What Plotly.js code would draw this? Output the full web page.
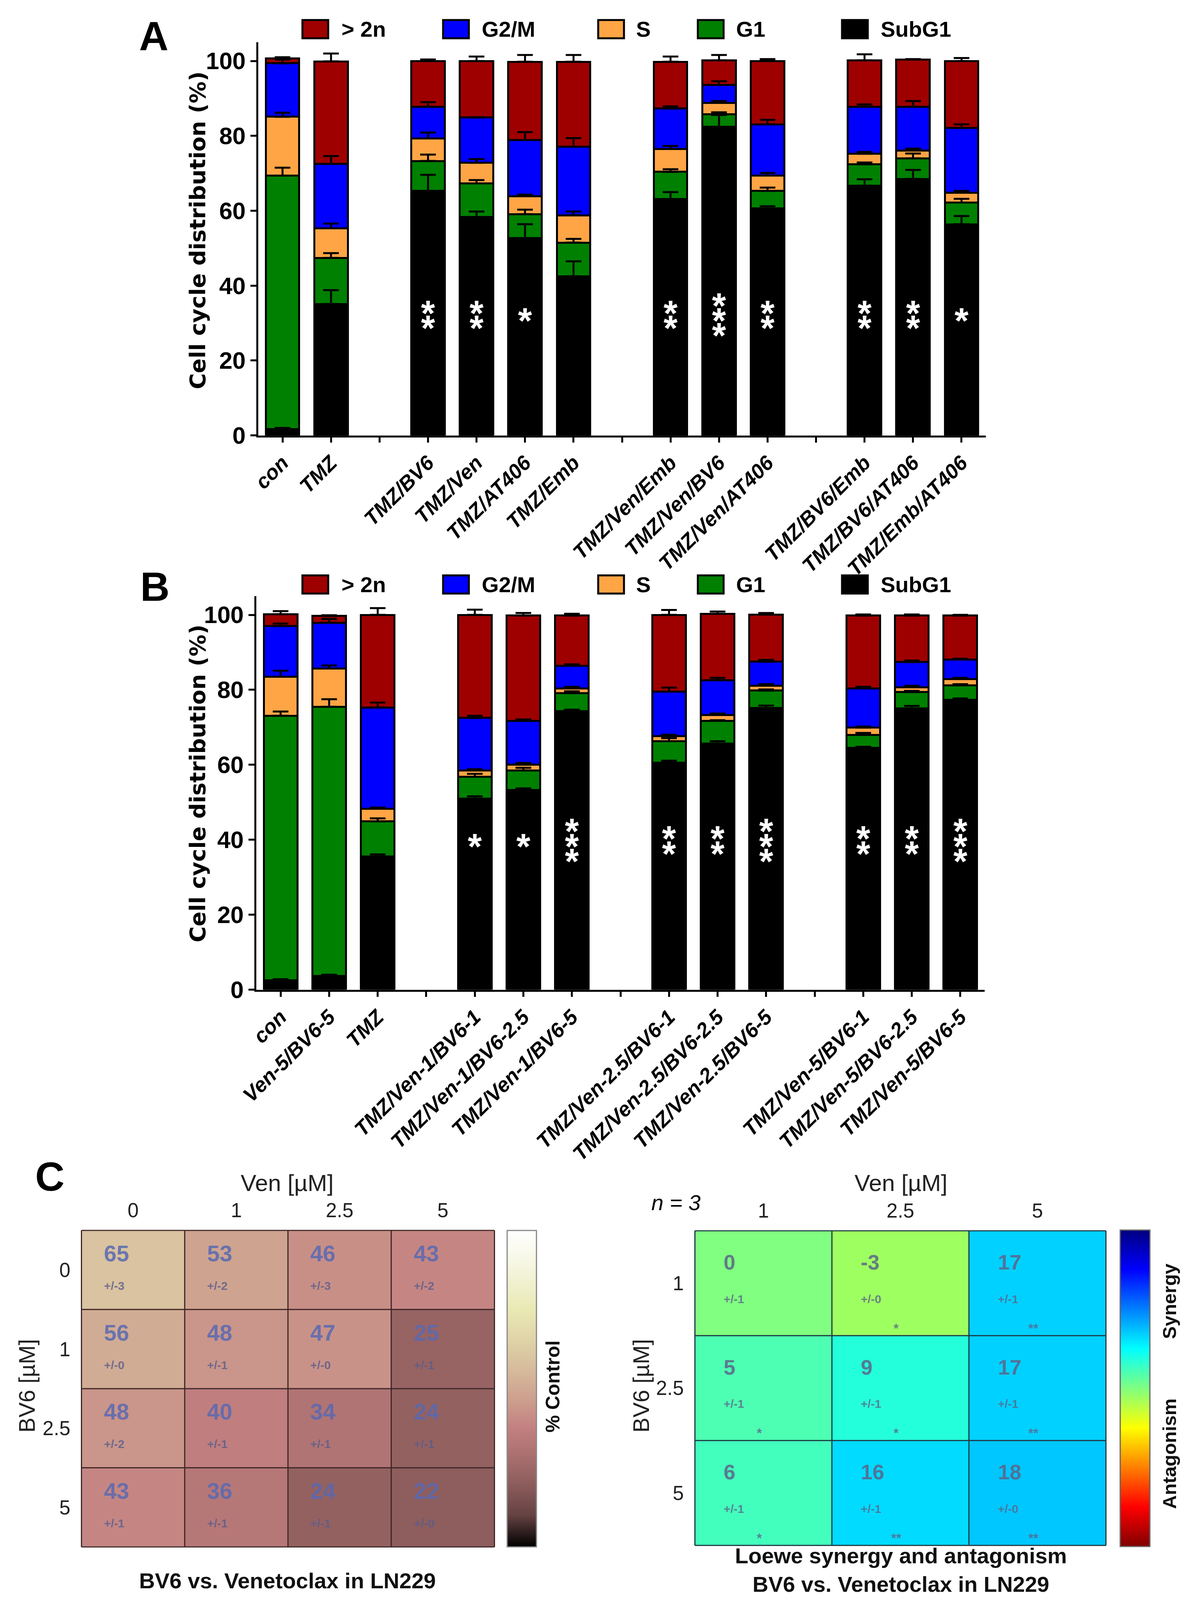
<!DOCTYPE html>
<html>
<head>
<meta charset="utf-8">
<script src="https://cdn.plot.ly/plotly-3.0.1.min.js"></script>
<style>html,body{margin:0;padding:0;background:#fff;overflow:hidden}</style>
</head>
<body>
<div id="chart"></div>
<script>
// ---------------- DATA ----------------
const seriesNames = ['SubG1', 'G1', 'S', 'G2/M', '> 2n'];   // stacking order bottom -> top

// Panel A
const labelsA = ['con', 'TMZ', '', 'TMZ/BV6', 'TMZ/Ven', 'TMZ/AT406', 'TMZ/Emb', '',
  'TMZ/Ven/Emb', 'TMZ/Ven/BV6', 'TMZ/Ven/AT406', '', 'TMZ/BV6/Emb', 'TMZ/BV6/AT406', 'TMZ/Emb/AT406'];
const subG1_A = [1.7, 35.1, null, 65.3, 58.3, 52.7, 42.5, null, 63.1, 82.4, 60.6, null, 66.7, 68.5, 56.4];
const g1_A    = [67.7, 12.3, null, 8.0, 9.0, 6.4, 9.0, null, 7.3, 3.4, 4.7, null, 5.7, 5.5, 5.8];
const s_A     = [15.7, 7.9, null, 6.0, 5.5, 4.8, 7.3, null, 6.1, 3.0, 4.1, null, 2.8, 2.1, 2.6];
const g2m_A   = [14.3, 17.2, null, 8.5, 12.1, 15.0, 18.3, null, 10.8, 4.8, 13.7, null, 12.6, 11.7, 17.3];
const gt2n_A  = [1.3, 27.4, null, 12.2, 15.1, 20.9, 22.7, null, 12.5, 6.6, 16.9, null, 12.4, 12.6, 17.9];
const sdSubG1_A = [0.3, 3.7, null, 4.3, 1.5, 3.7, 4.0, null, 1.9, 3.2, 0.6, null, 1.7, 2.4, 2.2];
const sdG1_A    = [2.1, 1.3, null, 1.7, 0.9, 1.2, 1.0, null, 0.7, 0.5, 0.9, null, 0.5, 1.3, 1.0];
const sdS_A     = [1.1, 1.3, null, 1.6, 1.0, 0.4, 1.0, null, 0.8, 0.5, 0.7, null, 0.5, 0.5, 0.5];
const sdG2m_A   = [1.0, 2.1, null, 1.2, 0.1, 2.1, 2.3, null, 0.6, 1.0, 1.2, null, 0.6, 1.5, 1.0];
const sdGt2n_A  = [0.3, 2.1, null, 0.4, 1.2, 1.8, 1.8, null, 1.4, 1.4, 0.5, null, 1.6, 0.1, 0.8];
const starsA    = [0, 0, 0, 2, 2, 1, 0, 0, 2, 3, 2, 0, 2, 2, 1];

// Panel B
const labelsB = ['con', 'Ven-5/BV6-5', 'TMZ', '', 'TMZ/Ven-1/BV6-1', 'TMZ/Ven-1/BV6-2.5', 'TMZ/Ven-1/BV6-5', '',
  'TMZ/Ven-2.5/BV6-1', 'TMZ/Ven-2.5/BV6-2.5', 'TMZ/Ven-2.5/BV6-5', '', 'TMZ/Ven-5/BV6-1', 'TMZ/Ven-5/BV6-2.5', 'TMZ/Ven-5/BV6-5'];
const subG1_B = [2.5, 3.7, 35.5, null, 51.0, 53.3, 74.3, null, 60.6, 65.7, 75.1, null, 64.5, 75.0, 77.3];
const g1_B    = [70.6, 71.8, 9.4, null, 5.8, 5.2, 4.8, null, 5.7, 6.0, 4.7, null, 3.5, 4.4, 3.9];
const s_B     = [10.4, 10.2, 3.4, null, 1.7, 1.5, 1.3, null, 1.3, 1.6, 1.3, null, 1.9, 1.3, 1.7];
const g2m_B   = [13.5, 12.2, 27.0, null, 14.0, 11.7, 6.0, null, 11.9, 9.3, 6.4, null, 10.5, 6.7, 5.2];
const gt2n_B  = [3.2, 1.8, 24.7, null, 27.5, 28.1, 13.4, null, 20.5, 17.7, 12.6, null, 19.4, 12.4, 11.7];
const sdSubG1_B = [0.3, 0.3, 0.6, null, 0.6, 0.4, 0.4, null, 0.5, 0.6, 0.7, null, 0.3, 0.7, 0.4];
const sdG1_B    = [1.1, 2.0, 0.8, null, 0.8, 0.7, 0.5, null, 0.8, 0.2, 0.3, null, 0.5, 0.3, 0.3];
const sdS_B     = [1.6, 0.8, 0.3, null, 0.3, 0.5, 0.4, null, 0.4, 0.4, 0.4, null, 0.3, 0.4, 0.3];
const sdG2m_B   = [0.7, 1.0, 1.3, null, 0.6, 0.4, 0.4, null, 1.1, 0.6, 0.5, null, 0.4, 0.4, 0.2];
const sdGt2n_B  = [0.8, 0.2, 1.8, null, 1.4, 0.7, 0.5, null, 1.3, 0.6, 0.4, null, 0.3, 0.3, 0.2];
const starsB    = [0, 0, 0, 0, 1, 1, 3, 0, 2, 2, 3, 0, 2, 2, 3];

// Panel C (left): % control, rows BV6, columns Ven
const venLeft = ['0', '1', '2.5', '5'];
const bv6Left = ['0', '1', '2.5', '5'];
const pctControl = [[65, 53, 46, 43], [56, 48, 47, 25], [48, 40, 34, 24], [43, 36, 24, 22]];
const pctControlSD = [[3, 2, 3, 2], [0, 1, 0, 1], [2, 1, 1, 1], [1, 1, 1, 0]];

// Panel C (right): Loewe synergy
const venRight = ['1', '2.5', '5'];
const bv6Right = ['1', '2.5', '5'];
const loewe = [[0, -3, 17], [5, 9, 17], [6, 16, 18]];
const loeweSD = [[1, 0, 1], [1, 1, 1], [1, 1, 0]];
const loeweStars = [['', '*', '**'], ['*', '*', '**'], ['*', '**', '**']];

// ---------------- STYLE / LAYOUT ----------------
const W = 3061, H_REF = 4391;
const vh = window.innerHeight;
const H = (vh && vh > 1000) ? Math.min(vh, H_REF) : H_REF;     // fit the whole figure in the visible window
const hr = H / H_REF;                 // vertical squeeze factor
const F = (1 + hr) / 2;               // font scale for horizontal text
const fs = s => Math.round(s * F);
const fv = s => Math.round(s * hr);   // font scale for vertical / diagonal text
document.getElementById('chart').style.width = W + 'px';
document.getElementById('chart').style.height = H + 'px';

const X = p => p / W;
const Y = p => 1 - p / H_REF;
const SANS = '"Liberation Sans", Arial, Helvetica, sans-serif';
const WIDE = '"DejaVu Sans", Verdana, sans-serif';
const seriesColors = ['#000000', '#008000', '#ffa545', '#0000ff', '#9e0000'];

const traces = [];
const annotations = [];
const shapes = [];

function panel(xa, ya, segs, sds, stars, starCenter, starStep) {
  const xs = segs[0].map((_, i) => i);
  segs.forEach((seg, s) => {
    traces.push({
      type: 'bar', x: xs, y: seg, xaxis: xa, yaxis: ya, width: 0.69,
      marker: {color: seriesColors[s], line: {color: '#000', width: 5}},
      name: seriesNames[s], showlegend: false, hoverinfo: 'skip'
    });
  });
  segs.forEach((seg, s) => {
    const tops = xs.map(i => {
      if (seg[i] === null) return null;
      let t = 0; for (let k = 0; k <= s; k++) t += segs[k][i];
      return t;
    });
    traces.push({
      type: 'scatter', mode: 'markers', x: xs, y: tops, xaxis: xa, yaxis: ya,
      marker: {size: 1, color: 'rgba(0,0,0,0)'}, showlegend: false, hoverinfo: 'skip',
      error_y: {type: 'data', symmetric: false, array: sds[s], arrayminus: sds[s].map(v => v === null ? null : 0),
        color: '#000', thickness: 5, width: 20}
    });
  });
  const sx = [], sy = [];
  stars.forEach((c, i) => {
    for (let k = 0; k < c; k++) { sx.push(i); sy.push(starCenter + ((c - 1) / 2 - k) * starStep); }
  });
  traces.push({
    type: 'scatter', mode: 'text', x: sx, y: sy, text: sx.map(() => '*'), xaxis: xa, yaxis: ya,
    textposition: 'middle center', textfont: {family: SANS, size: fs(95), color: '#fff', weight: 'bold'},
    showlegend: false, hoverinfo: 'skip'
  });
}

panel('x', 'y', [subG1_A, g1_A, s_A, g2m_A, gt2n_A], [sdSubG1_A, sdG1_A, sdS_A, sdG2m_A, sdGt2n_A], starsA, 29.7, 4.0);
panel('x2', 'y2', [subG1_B, g1_B, s_B, g2m_B, gt2n_B], [sdSubG1_B, sdG1_B, sdS_B, sdG2m_B, sdGt2n_B], starsB, 37.3, 4.0);

const pinkScale = [
  [0, '#000000'], [0.1, '#654242'], [0.2, '#8e5d5d'], [0.3, '#ae7272'], [0.375, '#c38080'],
  [0.45, '#cb9a8c'], [0.55, '#d5b89a'], [0.65, '#dfd2a8'], [0.75, '#e9e9b4'], [0.875, '#f4f4dd'], [1, '#ffffff']];
const jetRev = [[0, '#800000'], [0.125, '#ff0000'], [0.375, '#ffff00'], [0.5, '#80ff80'], [0.625, '#00ffff'],
  [0.875, '#0000ff'], [1, '#000080']];

traces.push({
  type: 'heatmap', x: venLeft, y: bv6Left, z: pctControl, xaxis: 'x3', yaxis: 'y3',
  colorscale: pinkScale, zmin: 0, zmax: 110, hoverinfo: 'skip',
  colorbar: {x: X(1298), xanchor: 'left', xpad: 0, y: Y(3811), yanchor: 'middle', ypad: 0,
    len: 868 / H_REF, lenmode: 'fraction', thickness: 75, thicknessmode: 'pixels',
    showticklabels: false, ticks: '', outlinewidth: 3, outlinecolor: '#888'}
});
traces.push({
  type: 'heatmap', x: venRight, y: bv6Right, z: loewe, xaxis: 'x4', yaxis: 'y4',
  colorscale: jetRev, zmin: -50, zmax: 50, hoverinfo: 'skip',
  colorbar: {x: X(2867), xanchor: 'left', xpad: 0, y: Y(3810), yanchor: 'middle', ypad: 0,
    len: 868 / H_REF, lenmode: 'fraction', thickness: 76, thicknessmode: 'pixels',
    showticklabels: false, ticks: '', outlinewidth: 3, outlinecolor: '#666'}
});

function cellTexts(xa, ya, vals, sds, stars, opt) {
  vals.forEach((row, i) => row.forEach((v, j) => {
    annotations.push({xref: xa, yref: ya, x: j - 0.5 + opt.dx, y: i - 0.5 + opt.ny, text: String(v),
      xanchor: 'left', yanchor: 'middle', showarrow: false,
      font: {family: SANS, size: fs(opt.nsize), color: opt.ncol, weight: 'bold'}});
    annotations.push({xref: xa, yref: ya, x: j - 0.5 + opt.dx, y: i - 0.5 + opt.sy, text: '+/-' + sds[i][j],
      xanchor: 'left', yanchor: 'middle', showarrow: false,
      font: {family: SANS, size: fs(opt.ssize), color: opt.scol, weight: 'bold'}});
    if (stars && stars[i][j]) {
      annotations.push({xref: xa, yref: ya, x: j - 0.5 + 0.47, y: i - 0.5 + 0.93, text: stars[i][j],
        xanchor: 'center', yanchor: 'middle', showarrow: false,
        font: {family: SANS, size: fs(34), color: opt.scol, weight: 'bold'}});
    }
  }));
  const nc = vals[0].length, nr = vals.length;
  for (let k = 0; k <= nc; k++) shapes.push({type: 'line', xref: xa, yref: ya, x0: k - 0.5, x1: k - 0.5, y0: -0.5, y1: nr - 0.5,
    line: {color: opt.grid, width: 3}});
  for (let k = 0; k <= nr; k++) shapes.push({type: 'line', xref: xa, yref: ya, y0: k - 0.5, y1: k - 0.5, x0: -0.5, x1: nc - 0.5,
    line: {color: opt.grid, width: 3}});
}
cellTexts('x3', 'y3', pctControl, pctControlSD, null,
  {dx: 0.21, ny: 0.29, sy: 0.70, nsize: 60, ssize: 31, ncol: 'rgba(88,104,178,0.85)', scol: 'rgba(88,92,140,0.8)', grid: '#3d2626'});
cellTexts('x4', 'y4', loewe, loeweSD, loeweStars,
  {dx: 0.205, ny: 0.30, sy: 0.65, nsize: 56, ssize: 31, ncol: 'rgba(92,100,138,0.85)', scol: 'rgba(92,100,138,0.8)', grid: '#1f3a45'});

function legend(cy) {
  const swX = [774, 1134, 1531, 1786, 2155];
  const txX = [872, 1231, 1626, 1882, 2252];
  [4, 3, 2, 1, 0].forEach((s, k) => {
    shapes.push({type: 'rect', xref: 'paper', yref: 'paper', x0: X(swX[k]), x1: X(swX[k] + 66), y0: Y(cy + 25), y1: Y(cy - 25),
      fillcolor: seriesColors[s], line: {color: '#000', width: 5}});
    annotations.push({xref: 'paper', yref: 'paper', x: X(txX[k]), y: Y(cy), text: seriesNames[s], showarrow: false,
      xanchor: 'left', yanchor: 'middle', font: {family: SANS, size: fs(58), color: '#000', weight: 'bold'}});
  });
}
legend(80);
legend(1604);

function txt(x, y, text, font, opts) {
  annotations.push(Object.assign({xref: 'paper', yref: 'paper', x: X(x), y: Y(y), text, showarrow: false,
    xanchor: 'center', yanchor: 'middle', font}, opts || {}));
}
const bold = (size, color, fam) => ({family: fam || SANS, size, color: color || '#000', weight: 'bold'});
const reg = (size, color) => ({family: SANS, size, color: color || '#222'});
txt(393, 99, 'A', bold(fs(108)));
txt(396, 1610, 'B', bold(fs(108)));
txt(127, 3229, 'C', bold(fs(108)));
txt(506, 632, 'Cell cycle distribution (%)', bold(fv(60), '#000', WIDE), {textangle: -90});
txt(506, 2150, 'Cell cycle distribution (%)', bold(fv(60), '#000', WIDE), {textangle: -90});

txt(735, 3247, 'Ven [µM]', reg(fs(62)));
txt(2306, 3247, 'Ven [µM]', reg(fs(62)));
txt(69, 3803, 'BV6 [µM]', reg(fv(62)), {textangle: -90});
txt(1641, 3803, 'BV6 [µM]', reg(fv(62)), {textangle: -90});
txt(1415, 3805, '% Control', bold(fv(54), '#111'), {textangle: -90});
txt(2993, 3572, 'Synergy', bold(fv(52), '#111'), {textangle: -90});
txt(2993, 3990, 'Antagonism', bold(fv(52), '#111'), {textangle: -90});
txt(1730, 3300, 'n = 3', {family: SANS, size: fs(58), color: '#000', style: 'italic'});
txt(735, 4338, 'BV6 vs. Venetoclax in LN229', bold(fs(58), '#111'));
txt(2306, 4308, 'Loewe synergy and antagonism<br>BV6 vs. Venetoclax in LN229', bold(fs(58), '#111'));

function barX(d0, d1, anchor, labels) {
  return {domain: [X(d0), X(d1)], anchor, range: [-0.5, 14.5], tickmode: 'array',
    tickvals: labels.map((_, i) => i), ticktext: labels, tickangle: -45,
    tickfont: {family: SANS, size: fv(57), color: '#000', weight: 'bold', style: 'italic'},
    showline: true, linecolor: '#000', linewidth: 5, ticks: 'outside', ticklen: Math.round(14 * hr), tickwidth: 5, tickcolor: '#000',
    showgrid: false, zeroline: false, fixedrange: true};
}
function barY(p0, p1, anchor) {
  return {domain: [Y(p0), Y(p1)], anchor, range: [0, 105], tickmode: 'array', tickvals: [0, 20, 40, 60, 80, 100],
    tickfont: {family: SANS, size: fs(63), color: '#000', weight: 'bold'},
    showline: true, linecolor: '#000', linewidth: 5, ticks: 'outside', ticklen: 15, tickwidth: 5, tickcolor: '#000',
    showgrid: false, zeroline: false, fixedrange: true};
}
function hmX(d0, d1, anchor) {
  return {domain: [X(d0), X(d1)], anchor, type: 'category', side: 'top', ticks: '', showline: false, showgrid: false,
    zeroline: false, tickfont: reg(fs(53)), ticklabelstandoff: Math.round(22 * hr), fixedrange: true};
}
function hmY(p0, p1, anchor) {
  return {domain: [Y(p0), Y(p1)], anchor, type: 'category', autorange: 'reversed', ticks: '', showline: false,
    showgrid: false, zeroline: false, tickfont: reg(fs(53)), ticklabelstandoff: 26, fixedrange: true};
}

const layout = {
  width: W, height: H, margin: {l: 0, r: 0, t: 0, b: 0}, paper_bgcolor: '#fff', plot_bgcolor: '#fff',
  showlegend: false, barmode: 'stack', font: {family: SANS},
  xaxis: barX(661, 2523, 'y', labelsA), yaxis: barY(1195, 116, 'x'),
  xaxis2: barX(656, 2520, 'y2', labelsB), yaxis2: barY(2716, 1636, 'x2'),
  xaxis3: hmX(207, 1267, 'y3'), yaxis3: hmY(4247, 3375, 'x3'),
  xaxis4: hmX(1777, 2832, 'y4'), yaxis4: hmY(4243, 3376, 'x4'),
  annotations, shapes
};

Plotly.newPlot('chart', traces, layout, {staticPlot: true, displayModeBar: false});
</script>
</body>
</html>
